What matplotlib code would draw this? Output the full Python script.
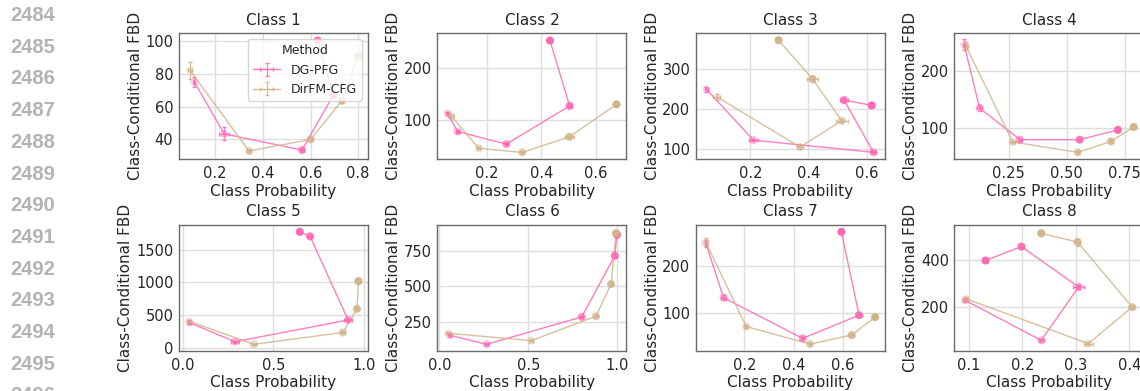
import numpy as np
import matplotlib
matplotlib.use("Agg")
import matplotlib.pyplot as plt

classes = ["Class 1", "Class 2", "Class 3", "Class 4",
           "Class 5", "Class 6", "Class 7", "Class 8"]
methods = ["DG-PFG", "DirFM-CFG"]
colors = ["#ff69b4", "#d2b48c"]
line_numbers = list(range(2484, 2497))

# DG-PFG, one list per class, ordered by guidance strength
pfg_prob = [
    [0.112, 0.238, 0.564, 0.696, 0.630],
    [0.056, 0.093, 0.272, 0.504, 0.432],
    [0.049, 0.211, 0.623, 0.522, 0.617],
    [0.058, 0.124, 0.298, 0.555, 0.720],
    [0.036, 0.288, 0.912, 0.702, 0.645],
    [0.058, 0.266, 0.800, 0.986, 0.998],
    [0.043, 0.115, 0.436, 0.665, 0.593],
    [0.092, 0.235, 0.305, 0.198, 0.131],
]
pfg_fbd = [
    [75, 43.4, 33.6, 67, 100],
    [113, 78, 54, 127, 252],
    [249, 123, 93, 222, 209],
    [245, 135, 80, 80, 97],
    [390, 100, 430, 1700, 1770],
    [156, 92, 285, 717, 866],
    [248, 133, 47, 96, 272],
    [230, 57, 286, 460, 400],
]
pfg_prob_err = [
    [0.005, 0.02, 0.01, 0.005, 0.003],
    [0.005, 0.005, 0.005, 0.005, 0.005],
    [0.006, 0.015, 0.01, 0.015, 0.005],
    [0.005, 0.01, 0.005, 0.005, 0.005],
    [0.01, 0.02, 0.02, 0.01, 0.005],
    [0.01, 0.01, 0.01, 0.01, 0.005],
    [0.003, 0.01, 0.005, 0.01, 0.005],
    [0.003, 0.005, 0.01, 0.005, 0.003],
]
pfg_fbd_err = [
    [3, 4, 1, 1, 1],
    [3, 2, 2, 3, 3],
    [6, 3, 3, 4, 3],
    [10, 5, 2, 2, 2],
    [20, 15, 20, 20, 20],
    [10, 5, 10, 15, 15],
    [6, 5, 2, 3, 3],
    [8, 6, 10, 12, 6],
]

# DirFM-CFG
cfg_prob = [
    [0.094, 0.342, 0.600, 0.732, 0.800],
    [0.069, 0.171, 0.330, 0.504, 0.676],
    [0.085, 0.371, 0.514, 0.414, 0.297],
    [0.065, 0.267, 0.547, 0.690, 0.788],
    [0.036, 0.392, 0.883, 0.961, 0.969],
    [0.048, 0.517, 0.880, 0.965, 0.993],
    [0.043, 0.207, 0.466, 0.635, 0.730],
    [0.094, 0.323, 0.405, 0.303, 0.235],
]
cfg_fbd = [
    [82, 33, 40, 63.5, 90.5],
    [108, 46, 38, 68, 130],
    [230, 106, 171, 274, 370],
    [243, 76, 58, 77, 102],
    [410, 60, 240, 600, 1020],
    [170, 118, 290, 517, 875],
    [250, 72, 35, 54, 92],
    [236, 43, 200, 479, 517],
]
cfg_prob_err = [
    [0.01, 0.01, 0.01, 0.01, 0.005],
    [0.01, 0.005, 0.005, 0.015, 0.005],
    [0.012, 0.01, 0.02, 0.02, 0.005],
    [0.01, 0.01, 0.005, 0.005, 0.005],
    [0.01, 0.01, 0.01, 0.005, 0.005],
    [0.01, 0.01, 0.01, 0.005, 0.005],
    [0.005, 0.005, 0.005, 0.01, 0.005],
    [0.004, 0.008, 0.005, 0.005, 0.004],
]
cfg_fbd_err = [
    [5, 1.5, 1, 1, 1],
    [4, 2, 2, 2, 2],
    [8, 4, 3, 8, 3],
    [6, 2, 2, 2, 2],
    [15, 10, 15, 20, 20],
    [8, 6, 8, 15, 20],
    [10, 3, 2, 2, 2],
    [8, 6, 8, 15, 12],
]

plt.rcParams.update({
    "font.family": ["DejaVu Sans"],
    "text.color": "#262626",
    "axes.labelcolor": "#262626",
    "xtick.color": "#262626",
    "ytick.color": "#262626",
    "axes.edgecolor": "#6a6a6a",
    "axes.linewidth": 1.0,
    "grid.color": "#dedede",
    "grid.linewidth": 1.0,
    "xtick.major.size": 0,
    "ytick.major.size": 0,
    "xtick.major.pad": 5,
    "ytick.major.pad": 4,
})

fig, axes = plt.subplots(2, 4, figsize=(11.4, 3.91), dpi=100)
fig.subplots_adjust(left=0.157, right=1.003, top=0.915, bottom=0.103,
                    wspace=0.368, hspace=0.52)

series = [
    (pfg_prob, pfg_fbd, pfg_prob_err, pfg_fbd_err),
    (cfg_prob, cfg_fbd, cfg_prob_err, cfg_fbd_err),
]
alphas = [0.25, 0.45, 0.65, 0.85, 1.0]

for i, ax in enumerate(axes.flat):
    ax.set_axisbelow(True)
    ax.grid(True)
    for m, (px, fy, pe, fe) in enumerate(series):
        ax.errorbar(px[i], fy[i], xerr=pe[i], yerr=fe[i], fmt="-",
                    color=colors[m], lw=1.0, elinewidth=0.9, capsize=1.5,
                    alpha=0.85, label=methods[m], zorder=2)
        ax.scatter(px[i], fy[i], s=34, color=colors[m], alpha=alphas,
                   linewidths=0, zorder=3)
    ax.set_title(classes[i], fontsize=11)
    ax.set_xlabel("Class Probability", fontsize=11, labelpad=2)
    ax.set_ylabel("Class-Conditional FBD", fontsize=11, labelpad=2)
    ax.tick_params(labelsize=10.5)

leg = axes[0, 0].legend(title="Method", loc="upper right", fontsize=9,
                        title_fontsize=9, framealpha=0.8,
                        borderpad=0.4, handlelength=2.2)
leg.get_frame().set_edgecolor("#cccccc")

for k, n in enumerate(line_numbers):
    fig.text(10 / 1140, 1 - (15.5 + 31.7 * k) / 391, str(n),
             ha="left", va="center", color="#b3b3b3", fontsize=14.5,
             fontweight="bold", family=["Liberation Sans", "DejaVu Sans"])

fig.savefig("out.png", dpi=100)
